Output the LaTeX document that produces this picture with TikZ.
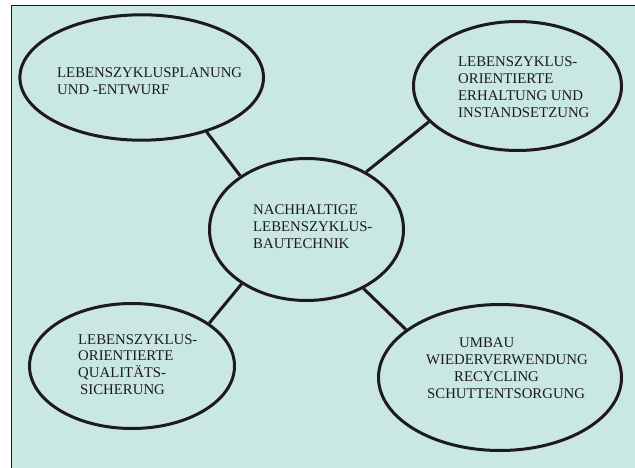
\documentclass[tikz,border=0pt]{standalone}
\usepackage{fontspec}
\setmainfont{Liberation Serif}
\usetikzlibrary{shapes.geometric}
\definecolor{bgcyan}{RGB}{201,232,227}
\definecolor{ink}{RGB}{30,26,27}
\begin{document}
\begin{tikzpicture}[x=1pt,y=-1pt,
  oval/.style={ellipse,draw=ink,line width=3pt,inner sep=0pt},
  txt/.style={anchor=north west,inner sep=0pt,align=left,text=ink,
    font=\fontsize{14.8}{16.7}\selectfont},
  link/.style={draw=ink,line width=3pt}]
\useasboundingbox (0,0) rectangle (635,468);
\fill[bgcyan] (11,6) rectangle (635,468);
\draw[ink,line width=1pt] (635,6) -- (11,6) -- (11,468);

\node[oval,minimum width=243.6pt,minimum height=125.4pt] (tl) at (141.7,77.5) {};
\node[oval,minimum width=194pt,minimum height=142pt] (c) at (306.5,229.5) {};
\node[oval,minimum width=208pt,minimum height=129pt] (tr) at (517.5,86) {};
\node[oval,minimum width=205pt,minimum height=125pt] (bl) at (132,366) {};
\node[oval,minimum width=243pt,minimum height=146pt] (br) at (500,377.5) {};

\node[txt] (tlt) at (57,68) {LEBENSZYKLUSPLANUNG\\UND -ENTWURF};
\node[txt] (ct) at (253,205) {NACHHALTIGE\\LEBENSZYKLUS-\\BAUTECHNIK};
\node[txt] (trt) at (458,57) {LEBENSZYKLUS-\\ORIENTIERTE\\ERHALTUNG UND\\INSTANDSETZUNG};
\node[txt] (blt) at (78,334) {LEBENSZYKLUS-\\ORIENTIERTE\\QUALITÄTS-\\\hspace*{2pt}SICHERUNG};
\node[txt] (brt) at (426,338) {\hspace*{33pt}UMBAU\\WIEDERVERWENDUNG\\\hspace*{28pt}RECYCLING\\\hspace*{1pt}SCHUTTENTSORGUNG};

\draw[link] (tl.-40) -- (c.141);
\draw[link] (tr.202) -- (c.44);
\draw[link] (bl.29) -- (c.220);
\draw[link] (br.153) -- (c.-46);
\end{tikzpicture}
\end{document}
